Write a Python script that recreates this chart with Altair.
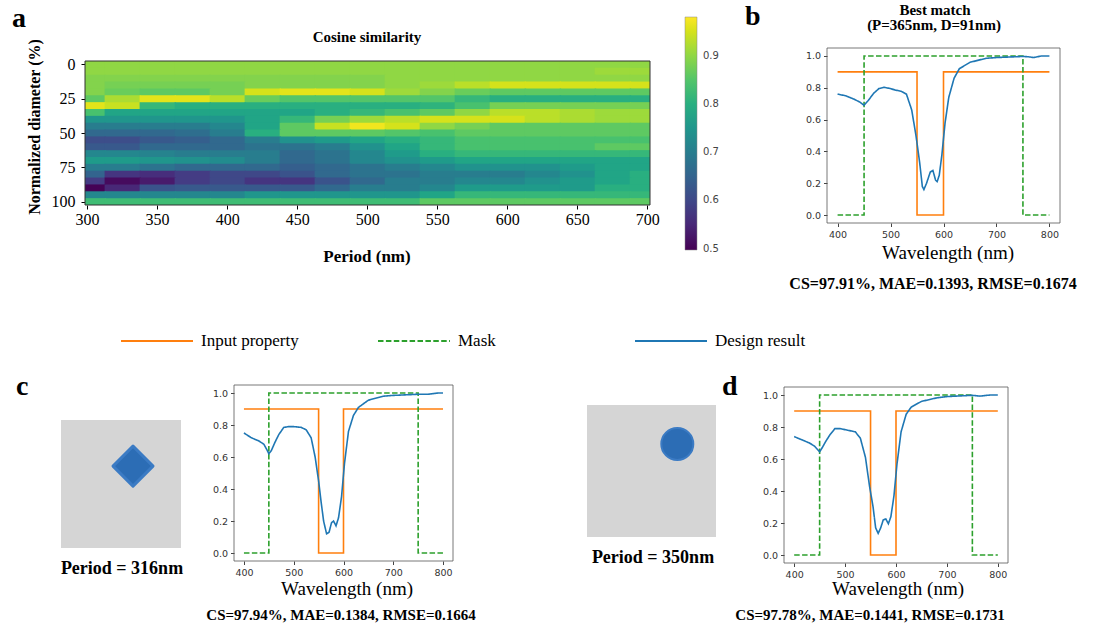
import altair as alt
import pandas as pd

W, H = 1106, 630
SERIF = "Liberation Serif"
SANS = "DejaVu Sans"

# ---------------- data ----------------
periods = [300, 325, 350, 375, 400, 425, 450, 475, 500, 525, 550, 575, 600, 625, 650, 675, 700]
diameters = [0, 5, 10, 15, 20, 25, 30, 35, 40, 45, 50, 55, 60, 65, 70, 75, 80, 85, 90, 95, 100]
cosine = [
    [0.90, 0.90, 0.90, 0.90, 0.90, 0.90, 0.90, 0.90, 0.90, 0.90, 0.90, 0.90, 0.90, 0.90, 0.90, 0.90, 0.90],
    [0.90, 0.90, 0.90, 0.90, 0.90, 0.90, 0.90, 0.90, 0.90, 0.90, 0.90, 0.90, 0.90, 0.90, 0.90, 0.91, 0.91],
    [0.89, 0.89, 0.89, 0.89, 0.89, 0.89, 0.89, 0.89, 0.89, 0.90, 0.90, 0.90, 0.90, 0.90, 0.90, 0.90, 0.90],
    [0.89, 0.88, 0.88, 0.88, 0.88, 0.89, 0.89, 0.89, 0.89, 0.90, 0.91, 0.93, 0.95, 0.95, 0.95, 0.95, 0.95],
    [0.89, 0.87, 0.86, 0.86, 0.88, 0.95, 0.96, 0.96, 0.95, 0.91, 0.89, 0.87, 0.86, 0.86, 0.86, 0.86, 0.86],
    [0.86, 0.92, 0.96, 0.96, 0.93, 0.87, 0.85, 0.85, 0.85, 0.85, 0.85, 0.82, 0.80, 0.80, 0.80, 0.80, 0.80],
    [0.96, 0.94, 0.82, 0.80, 0.80, 0.80, 0.80, 0.80, 0.80, 0.80, 0.81, 0.84, 0.88, 0.88, 0.88, 0.88, 0.88],
    [0.84, 0.78, 0.78, 0.78, 0.78, 0.78, 0.78, 0.80, 0.82, 0.84, 0.86, 0.90, 0.93, 0.93, 0.92, 0.91, 0.91],
    [0.75, 0.75, 0.75, 0.75, 0.75, 0.78, 0.82, 0.88, 0.91, 0.93, 0.95, 0.95, 0.95, 0.93, 0.92, 0.91, 0.91],
    [0.70, 0.70, 0.70, 0.70, 0.72, 0.78, 0.86, 0.94, 0.97, 0.95, 0.90, 0.88, 0.86, 0.86, 0.86, 0.86, 0.86],
    [0.66, 0.66, 0.66, 0.67, 0.70, 0.80, 0.86, 0.86, 0.86, 0.85, 0.84, 0.86, 0.86, 0.86, 0.86, 0.86, 0.86],
    [0.61, 0.61, 0.63, 0.64, 0.66, 0.70, 0.74, 0.76, 0.78, 0.80, 0.82, 0.84, 0.84, 0.84, 0.84, 0.84, 0.84],
    [0.63, 0.63, 0.66, 0.66, 0.66, 0.68, 0.68, 0.70, 0.74, 0.78, 0.82, 0.84, 0.84, 0.84, 0.84, 0.86, 0.86],
    [0.72, 0.72, 0.71, 0.70, 0.70, 0.70, 0.66, 0.68, 0.72, 0.76, 0.80, 0.82, 0.82, 0.82, 0.82, 0.82, 0.82],
    [0.76, 0.76, 0.75, 0.74, 0.73, 0.70, 0.66, 0.68, 0.72, 0.74, 0.76, 0.78, 0.78, 0.78, 0.78, 0.78, 0.78],
    [0.70, 0.70, 0.68, 0.66, 0.66, 0.66, 0.64, 0.66, 0.68, 0.70, 0.72, 0.74, 0.74, 0.74, 0.76, 0.78, 0.78],
    [0.65, 0.57, 0.56, 0.58, 0.60, 0.60, 0.62, 0.66, 0.68, 0.68, 0.70, 0.70, 0.70, 0.72, 0.74, 0.78, 0.80],
    [0.58, 0.51, 0.53, 0.58, 0.60, 0.57, 0.57, 0.62, 0.66, 0.70, 0.70, 0.72, 0.72, 0.74, 0.76, 0.78, 0.80],
    [0.50, 0.55, 0.62, 0.63, 0.63, 0.63, 0.63, 0.66, 0.70, 0.70, 0.72, 0.76, 0.76, 0.76, 0.76, 0.80, 0.80],
    [0.72, 0.72, 0.72, 0.72, 0.72, 0.75, 0.75, 0.75, 0.75, 0.75, 0.78, 0.82, 0.82, 0.82, 0.82, 0.82, 0.82],
    [0.83, 0.83, 0.83, 0.83, 0.83, 0.83, 0.83, 0.83, 0.83, 0.83, 0.86, 0.86, 0.86, 0.86, 0.86, 0.86, 0.86],
]
colorbar_ticks = [0.5, 0.6, 0.7, 0.8, 0.9]

series_names = ["Input property", "Mask", "Design result"]
input_wl = [400, 550, 600, 800]
input_val = [0.9, 0.0, 0.9, 0.9]
mask_wl = [400, 450, 750, 800]
mask_val = [0.0, 1.0, 0.0, 0.0]

b_wl = [400, 415, 430, 442, 450, 458, 468, 478, 487, 497, 510, 520, 530, 540, 548, 555, 560, 563, 568, 575,
        580, 585, 588, 592, 597, 603, 610, 620, 630, 650, 680, 700, 750, 760, 770, 785, 800]
b_val = [0.76, 0.75, 0.73, 0.71, 0.69, 0.72, 0.765, 0.795, 0.803, 0.797, 0.785, 0.778, 0.76, 0.66, 0.50, 0.33,
         0.18, 0.16, 0.20, 0.27, 0.28, 0.22, 0.21, 0.25, 0.38, 0.58, 0.74, 0.86, 0.92, 0.96, 0.985, 0.99,
         0.997, 0.995, 0.99, 1.0, 1.0]

c_wl = [400, 415, 430, 440, 447, 450, 455, 462, 470, 480, 490, 500, 515, 525, 535, 543, 550, 555, 560, 566,
        571, 576, 580, 585, 590, 596, 602, 610, 620, 630, 650, 680, 700, 750, 770, 790, 800]
c_val = [0.75, 0.72, 0.70, 0.68, 0.64, 0.62, 0.64, 0.69, 0.74, 0.785, 0.79, 0.79, 0.785, 0.77, 0.72, 0.60,
         0.45, 0.32, 0.20, 0.12, 0.13, 0.19, 0.20, 0.17, 0.22, 0.35, 0.56, 0.76, 0.86, 0.91, 0.955, 0.98,
         0.985, 0.992, 0.992, 1.0, 1.0]

d_wl = [400, 415, 430, 440, 450, 455, 462, 470, 480, 490, 505, 520, 530, 540, 548, 555, 560, 565, 570, 575,
        580, 585, 590, 596, 602, 610, 620, 630, 650, 680, 700, 750, 765, 785, 800]
d_val = [0.74, 0.72, 0.70, 0.68, 0.645, 0.67, 0.71, 0.75, 0.79, 0.79, 0.78, 0.77, 0.73, 0.61, 0.43, 0.30,
         0.17, 0.135, 0.17, 0.22, 0.225, 0.195, 0.24, 0.37, 0.57, 0.77, 0.88, 0.925, 0.96, 0.982, 0.99,
         0.998, 0.993, 1.0, 1.0]

wl_ticks = [400, 500, 600, 700, 800]
val_ticks = [0.0, 0.2, 0.4, 0.6, 0.8, 1.0]

# ---------------- heatmap (a) ----------------
P_DOM = [298.5, 702.0]
D_DOM = [-2.5, 102.5]
OVER_P, OVER_D = 1.0, 0.7  # small overlap so neighbouring cells leave no anti-aliasing seams
rows = []
for i, d in enumerate(diameters):
    for j, p in enumerate(periods):
        rows.append({
            "p0": max(p - 12.5, P_DOM[0]), "p1": min(p + 12.5 + OVER_P, P_DOM[1]),
            "d0": d - 2.5, "d1": min(d + 2.5 + OVER_D, D_DOM[1]), "cs": cosine[i][j],
        })
heat_df = pd.DataFrame(rows)

HX = [85, 650]
HY = [61, 205]
hx_scale = alt.Scale(domain=P_DOM, range=HX, nice=False, zero=False)
hy_scale = alt.Scale(domain=D_DOM, range=HY, nice=False, zero=False)
hx_axis = alt.Axis(orient="bottom", offset=HY[1] - H, values=periods[::2], title=None, grid=False,
                   domain=False, tickSize=4, tickColor="black", labelFont=SERIF, labelFontSize=16,
                   labelColor="black", labelPadding=2)
hy_axis = alt.Axis(orient="left", offset=-HX[0], values=[0, 25, 50, 75, 100], title=None, grid=False,
                   domain=False, tickSize=4, tickColor="black", labelFont=SERIF, labelFontSize=16,
                   labelColor="black", labelPadding=6)
CS_DOMAIN = [0.497, 0.98]

heat_rect = alt.Chart(heat_df).mark_rect().encode(
    x=alt.X("p0:Q", scale=hx_scale, axis=hx_axis),
    x2="p1:Q",
    y=alt.Y("d0:Q", scale=hy_scale, axis=hy_axis),
    y2="d1:Q",
    color=alt.Color("cs:Q", scale=alt.Scale(scheme="viridis", domain=CS_DOMAIN, clamp=True),
                    legend=alt.Legend(type="gradient", orient="none", legendX=685, legendY=17,
                                      direction="vertical", gradientLength=233, gradientThickness=12,
                                      title=None, values=colorbar_ticks, labelFont=SANS, labelFontSize=10,
                                      labelColor="#444", labelOffset=6, gradientStrokeColor="#888",
                                      gradientStrokeWidth=0.5)),
)
heat_frame_df = pd.DataFrame({"p0": [P_DOM[0]], "p1": [P_DOM[1]], "d0": [D_DOM[0]], "d1": [D_DOM[1]]})
heat_frame = alt.Chart(heat_frame_df).mark_rect(fillOpacity=0, stroke="#333", strokeWidth=1).encode(
    x=alt.X("p0:Q", scale=hx_scale, axis=hx_axis),
    x2="p1:Q",
    y=alt.Y("d0:Q", scale=hy_scale, axis=hy_axis),
    y2="d1:Q",
)
heat_layer = alt.layer(heat_rect, heat_frame)

# ---------------- spectra (b, c, d) ----------------
COLORS = ["#ff7f0e", "#2ca02c", "#1f77b4"]
DASHES = [[1, 0], [5.5, 2.4], [1, 0]]


def spectrum(xr, yr, wl, val, show_legend):
    xs = alt.Scale(domain=[380, 820], range=xr, nice=False, zero=False)
    ys = alt.Scale(domain=[-0.05, 1.05], range=yr, nice=False, zero=False)
    xa = alt.Axis(orient="bottom", offset=yr[0] - H, values=wl_ticks, title=None, grid=False, domain=False,
                  tickSize=3.5, tickColor="#444", labelFont=SANS, labelFontSize=9.5, labelColor="#333",
                  labelPadding=3)
    ya = alt.Axis(orient="left", offset=-xr[0], values=val_ticks, format=".1f", title=None, grid=False,
                  domain=False, tickSize=3.5, tickColor="#444", labelFont=SANS, labelFontSize=9.5,
                  labelColor="#333", labelPadding=3)
    if show_legend:
        leg = alt.Legend(orient="none", legendX=120, legendY=304, direction="horizontal", columns=3,
                         gridAlign="all", columnPadding=75, title=None, symbolType="stroke",
                         symbolSize=5184, symbolStrokeWidth=2, labelFont=SERIF, labelFontSize=17,
                         labelColor="black", labelOffset=7, padding=0)
    else:
        leg = None
    cscale = alt.Scale(domain=series_names, range=COLORS)
    dscale = alt.Scale(domain=series_names, range=DASHES)

    frame_df = pd.DataFrame({"wl": [380], "wl2": [820], "v": [-0.05], "v2": [1.05]})
    frame = alt.Chart(frame_df).mark_rect(fillOpacity=0, stroke="#555", strokeWidth=0.8).encode(
        x=alt.X("wl:Q", scale=xs, axis=xa), x2="wl2:Q",
        y=alt.Y("v:Q", scale=ys, axis=ya), y2="v2:Q",
    )
    step_df = pd.DataFrame({
        "wl": input_wl + mask_wl,
        "v": input_val + mask_val,
        "series": [series_names[0]] * len(input_wl) + [series_names[1]] * len(mask_wl),
    })
    steps = alt.Chart(step_df).mark_line(interpolate="step-after", strokeWidth=1.6).encode(
        x=alt.X("wl:Q", scale=xs, axis=xa),
        y=alt.Y("v:Q", scale=ys, axis=ya),
        color=alt.Color("series:N", scale=cscale, legend=leg),
        strokeDash=alt.StrokeDash("series:N", scale=dscale, legend=leg),
    )
    blue_df = pd.DataFrame({"wl": wl, "v": val, "series": [series_names[2]] * len(wl)})
    blue = alt.Chart(blue_df).mark_line(strokeWidth=1.6).encode(
        x=alt.X("wl:Q", scale=xs, axis=xa),
        y=alt.Y("v:Q", scale=ys, axis=ya),
        color=alt.Color("series:N", scale=cscale, legend=leg),
        strokeDash=alt.StrokeDash("series:N", scale=dscale, legend=leg),
    )
    return alt.layer(frame, steps, blue)


spec_b = spectrum([827, 1060], [223, 48], b_wl, b_val, True)
spec_c = spectrum([234, 453], [561, 385], c_wl, c_val, False)
spec_d = spectrum([784, 1008], [563, 387], d_wl, d_val, False)

# ---------------- unit cells (c, d) ----------------


def unit_cell(xr, yr, cx, cy, shape, size, stroke_w):
    xs = alt.Scale(domain=[0, 1], range=xr, nice=False, zero=False)
    ys = alt.Scale(domain=[0, 1], range=yr, nice=False, zero=False)
    cell = alt.Chart(pd.DataFrame({"x": [0], "x2": [1], "y": [0], "y2": [1]})).mark_rect(
        color="#d5d5d5").encode(
        x=alt.X("x:Q", scale=xs, axis=None), x2="x2:Q",
        y=alt.Y("y:Q", scale=ys, axis=None), y2="y2:Q",
    )
    particle = alt.Chart(pd.DataFrame({"x": [cx], "y": [cy]})).mark_point(
        shape=shape, filled=True, size=size, color="#2c6db5", opacity=1,
        stroke="#3b7bc4", strokeWidth=stroke_w, strokeJoin="round").encode(
        x=alt.X("x:Q", scale=xs, axis=None),
        y=alt.Y("y:Q", scale=ys, axis=None),
    )
    return alt.layer(cell, particle)


cell_c = unit_cell([61, 181], [548, 420], 0.60, 0.64, "diamond", 1600, 3)
cell_d = unit_cell([587, 716], [537, 405], 0.70, 0.705, "circle", 1024, 2)

# ---------------- text ----------------


def label(s, x, y, size, weight="normal", align="center", baseline="alphabetic", angle=None, font=SERIF):
    kw = dict(text=s, font=font, fontSize=size, fontWeight=weight, align=align, baseline=baseline,
              color="black")
    if angle is not None:
        kw["angle"] = angle
    return alt.Chart(alt.Data(values=[{}])).mark_text(**kw).encode(x=alt.value(x), y=alt.value(y))


texts = [
    label("a", 12, 27, 28, "bold", align="left"),
    label("b", 745, 25, 28, "bold", align="left"),
    label("c", 16, 395, 28, "bold", align="left"),
    label("d", 722, 395, 28, "bold", align="left"),
    label("Cosine similarity", 367, 42, 15, "bold"),
    label("Normalized diameter (%)", 35, 127, 16, "bold", baseline="middle", angle=270),
    label("Period (nm)", 367, 262, 17, "bold"),
    label("Best match", 935, 15, 15, "bold"),
    label("(P=365nm, D=91nm)", 934, 30, 15, "bold"),
    label("Wavelength (nm)", 948, 259, 19),
    label("CS=97.91%, MAE=0.1393, RMSE=0.1674", 933, 289, 16, "bold"),
    label("Wavelength (nm)", 347, 595, 19),
    label("CS=97.94%, MAE=0.1384, RMSE=0.1664", 341, 620, 15, "bold"),
    label("Wavelength (nm)", 898, 595, 19),
    label("CS=97.78%, MAE=0.1441, RMSE=0.1731", 870, 620, 15, "bold"),
    label("Period = 316nm", 122, 574, 18, "bold"),
    label("Period = 350nm", 653, 563, 18, "bold"),
]

chart = alt.layer(heat_layer, spec_b, spec_c, spec_d, cell_c, cell_d, *texts).resolve_scale(
    x="independent", y="independent", color="independent", strokeDash="independent"
).properties(
    width=W, height=H, padding=0, background="white",
    autosize=alt.AutoSizeParams(type="none"),
).configure_view(stroke=None)

chart.save("out.html", embed_options={"renderer": "svg", "actions": False})
